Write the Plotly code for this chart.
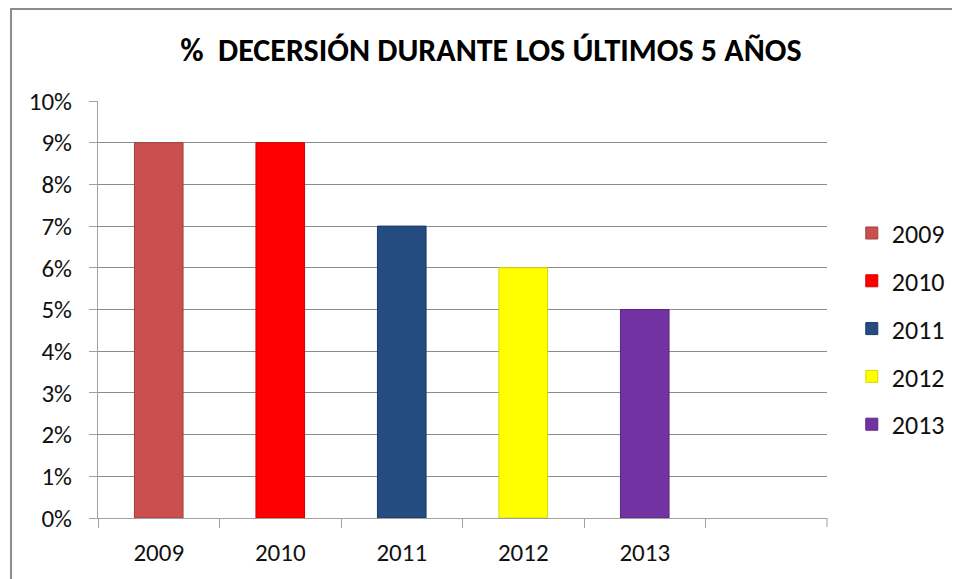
import plotly.graph_objects as go

# ---- data ----
years = ["2009", "2010", "2011", "2012", "2013"]
decrease = [0.09, 0.09, 0.07, 0.06, 0.05]
bar_colors = ["#C9504E", "#FF0000", "#244C80", "#FFFF00", "#7332A2"]
edge_colors = ["#A33F3D", "#D00000", "#1A3A63", "#D8D800", "#5A2682"]
y_ticks = [0, 0.01, 0.02, 0.03, 0.04, 0.05, 0.06, 0.07, 0.08, 0.09, 0.10]
title_text = "%  DECERSIÓN DURANTE LOS ÚLTIMOS 5 AÑOS"

FONT = "Carlito, Calibri, 'Liberation Sans Narrow', 'Open Sans', sans-serif"

fig = go.Figure()
for yr, val, col, edge in zip(years, decrease, bar_colors, edge_colors):
    fig.add_trace(go.Bar(
        x=[yr], y=[val], name=yr, width=0.4,
        marker=dict(color=col, line=dict(color=edge, width=1)),
        legendgroup=yr,
    ))

# outer chart frame (left and top edges visible)
fig.add_shape(type="rect", xref="paper", yref="paper",
              x0=-0.1193, x1=1.6, y0=-0.6, y1=1.2206,
              line=dict(color="#8C8C8C", width=2), layer="below")
# tick at end of the empty sixth slot
fig.add_shape(type="line", xref="paper", yref="paper",
              x0=1, x1=1, y0=0, y1=-0.0216,
              line=dict(color="#A0A0A0", width=1))

fig.update_layout(
    width=960, height=579,
    margin=dict(l=90, r=141, t=93, b=69),
    paper_bgcolor="white", plot_bgcolor="white",
    barmode="overlay",
    font=dict(family=FONT, size=25, color="#111111"),
    title=dict(text=title_text, x=0.503, xanchor="center",
               y=1 - 42 / 579, yanchor="middle",
               font=dict(family=FONT, size=32, color="#000000", weight="bold")),
    xaxis=dict(type="category", categoryorder="array", categoryarray=years,
               range=[-0.5, 5.5], showline=True, linecolor="#A0A0A0",
               linewidth=1, ticks="outside", ticklen=9, tickcolor="#A0A0A0",
               tickson="boundaries", showgrid=False, ticklabelstandoff=12,
               tickfont=dict(family=FONT, size=25, color="#111111"),
               fixedrange=True),
    yaxis=dict(range=[0, 0.10], tickvals=y_ticks, tickformat=".0%",
               showline=True, linecolor="#A0A0A0", linewidth=1,
               ticks="outside", ticklen=8, tickcolor="#A0A0A0",
               showgrid=True, gridcolor="#8C8C8C", gridwidth=1,
               zeroline=False, ticklabelstandoff=12,
               tickfont=dict(family=FONT, size=25, color="#111111")),
    legend=dict(x=1.034, xanchor="left", y=0.453, yanchor="middle",
                traceorder="grouped", tracegroupgap=11, itemwidth=30,
                font=dict(family=FONT, size=26, color="#111111"),
                bgcolor="rgba(0,0,0,0)"),
)

fig.write_html("out.html")
